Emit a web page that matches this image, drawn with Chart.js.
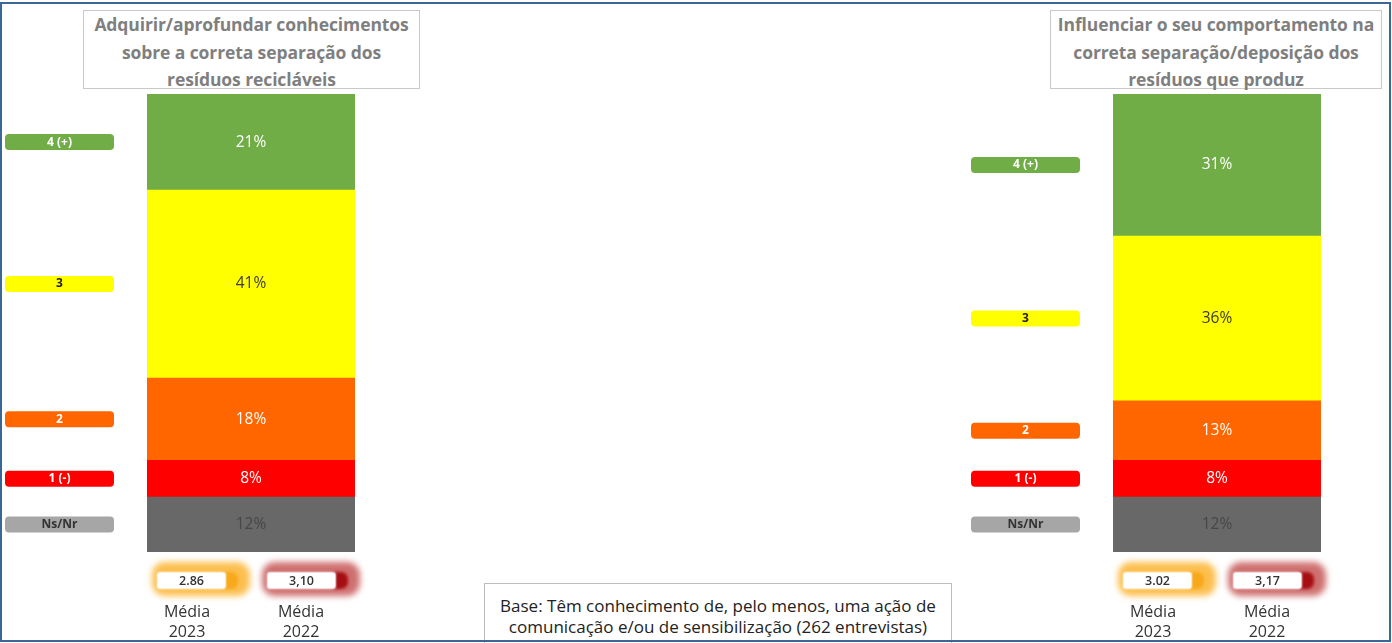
<!DOCTYPE html>
<html lang="pt">
<head>
<meta charset="utf-8">
<title>Ações de comunicação e sensibilização</title>
<script src="https://cdn.jsdelivr.net/npm/chart.js@4.4.1/dist/chart.umd.min.js"></script>
<style>
  body{margin:0;width:1392px;height:643px;overflow:hidden;background:#fff;position:relative;font-family:"Open Sans",Lato,sans-serif}
  .frame{position:absolute;left:0;top:2px;width:1387px;height:636px;border:2px solid #3a6793;pointer-events:none;z-index:5}
  .title{position:absolute;top:10px;height:79px;border:1px solid #c9c9c9;box-sizing:border-box;color:#7f7f7f;font-weight:700;font-size:17.5px;line-height:27.5px;text-align:center;padding-top:0;letter-spacing:-0.1px;white-space:nowrap}
  .panel{position:absolute;top:0;width:370px;height:560px}
  .media{position:absolute;top:560px;width:102px;height:38px}
  .media .glow{position:absolute;left:2px;top:2px;right:2px;bottom:2px;border-radius:13px;filter:blur(3px)}
  .media .tip{position:absolute;left:73px;top:12px;width:15px;height:17px;border-radius:0 7px 7px 0;filter:blur(1.5px)}
  .media .val{position:absolute;left:8px;top:13px;width:67px;height:15px;background:#fff;border-radius:2px;box-shadow:0 0 2px 1px #fff;font-size:12.5px;font-weight:600;color:#333;text-align:center;line-height:15px}
  .year{position:absolute;top:601px;width:80px;text-align:center;font-size:16px;line-height:20px;color:#333}
  .base{position:absolute;left:484px;top:583px;width:468px;height:70px;border:1px solid #bdbdbd;box-sizing:border-box;text-align:center;font-size:17px;line-height:21px;color:#222;padding-top:11px;white-space:nowrap}
</style>
</head>
<body>
<div class="frame"></div>

<div class="title" style="left:83px;width:337px">Adquirir/aprofundar conhecimentos<br>sobre a correta separação dos<br>resíduos recicláveis</div>
<div class="title" style="left:1050px;width:332px">Influenciar o seu comportamento na<br>correta separação/deposição dos<br>resíduos que produz</div>

<div class="panel" style="left:0"><canvas id="chartAdquirir"></canvas></div>
<div class="panel" style="left:966px"><canvas id="chartInfluenciar"></canvas></div>

<div id="mediaBoxes"></div>

<div class="base">Base: Têm conhecimento de, pelo menos, uma ação de<br>comunicação e/ou de sensibilização (262 entrevistas)</div>

<script>
// answer levels, bottom of the stack first
const levels = ['Ns/Nr', '1 (-)', '2', '3', '4 (+)'];
const levelColors = ['#686868', '#ff0000', '#ff6600', '#ffff00', '#70ad47'];
const pillColors = ['#a6a6a6', '#ff0000', '#ff6600', '#ffff00', '#70ad47'];
const valueTextColors = ['#474747', '#ffffff', '#ffffff', '#3a3a3a', '#ffffff'];
const pillTextColors = ['#333333', '#ffffff', '#ffffff', '#222222', '#ffffff'];

// percentages per level (same order as levels)
const pctAdquirir = [12, 8, 18, 41, 21];
const pctInfluenciar = [12, 8, 13, 36, 31];

// averages
const mediaYears = ['2023', '2022'];
const mediaAdquirir = ['2.86', '3,10'];
const mediaInfluenciar = ['3.02', '3,17'];

function roundRect(ctx, x, y, w, h, r){
  ctx.beginPath();
  ctx.moveTo(x + r, y);
  ctx.arcTo(x + w, y, x + w, y + h, r);
  ctx.arcTo(x + w, y + h, x, y + h, r);
  ctx.arcTo(x, y + h, x, y, r);
  ctx.arcTo(x, y, x + w, y, r);
  ctx.closePath();
}

// percent text inside each segment + level pill on the left
const segmentLabels = {
  id: 'segmentLabels',
  afterDatasetsDraw(chart){
    const ctx = chart.ctx;
    ctx.save();
    ctx.textAlign = 'center';
    ctx.textBaseline = 'middle';
    chart.data.datasets.forEach((ds, i) => {
      const bar = chart.getDatasetMeta(i).data[0];
      const yMid = (bar.y + bar.base) / 2;
      ctx.font = '15.5px "Open Sans", Lato, sans-serif';
      ctx.fillStyle = valueTextColors[i];
      ctx.fillText(ds.data[0] + '%', bar.x, yMid);

      roundRect(ctx, 5, yMid - 8, 109, 16, 4);
      ctx.fillStyle = pillColors[i];
      ctx.fill();
      ctx.font = '700 12px "Open Sans", Lato, sans-serif';
      ctx.fillStyle = pillTextColors[i];
      ctx.fillText(ds.label, 59.5, yMid);
    });
    ctx.restore();
  }
};

function buildChart(id, values){
  return new Chart(document.getElementById(id), {
    type: 'bar',
    data: {
      labels: [''],
      datasets: levels.map((lv, i) => ({
        label: lv,
        data: [values[i]],
        backgroundColor: levelColors[i],
        borderWidth: 0,
        barPercentage: 1,
        categoryPercentage: 1
      }))
    },
    options: {
      responsive: true,
      maintainAspectRatio: false,
      animation: false,
      layout: { padding: { left: 147, right: 15, top: 94, bottom: 8 } },
      plugins: { legend: { display: false }, tooltip: { enabled: false } },
      scales: {
        x: { stacked: true, display: false },
        y: { stacked: true, display: false, min: 0, max: 100 }
      }
    },
    plugins: [segmentLabels]
  });
}

buildChart('chartAdquirir', pctAdquirir);
buildChart('chartInfluenciar', pctInfluenciar);

// average boxes under each bar
const glowColors = [['#fcbf4e', '#f7a81b'], ['#cf6f6f', '#a50f14']];
const yearCenters = [187, 301];
function addMedia(panelLeft, values){
  const wrap = document.getElementById('mediaBoxes');
  values.forEach((v, i) => {
    const left = panelLeft + 150 + i * 110;
    const box = document.createElement('div');
    box.className = 'media';
    box.style.left = left + 'px';
    box.innerHTML = '<div class="glow" style="background:' + glowColors[i][0] + '"></div>' +
      '<div class="tip" style="background:' + glowColors[i][1] + '"></div>' +
      '<div class="val">' + v + '</div>';
    wrap.appendChild(box);
    const yr = document.createElement('div');
    yr.className = 'year';
    yr.style.left = (panelLeft + yearCenters[i] - 40) + 'px';
    yr.innerHTML = 'Média<br>' + mediaYears[i];
    wrap.appendChild(yr);
  });
}
addMedia(0, mediaAdquirir);
addMedia(966, mediaInfluenciar);
</script>
</body>
</html>
